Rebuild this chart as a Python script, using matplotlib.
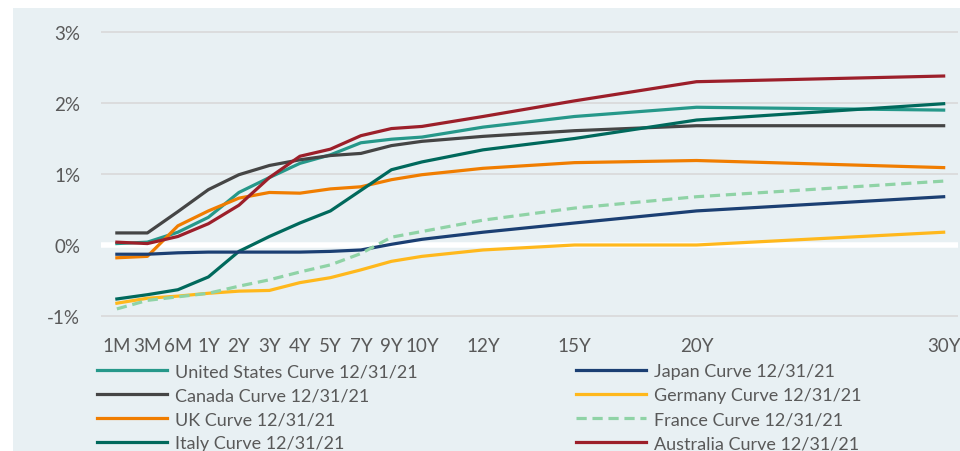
import matplotlib
matplotlib.use("Agg")
import matplotlib.pyplot as plt
from matplotlib.patches import Rectangle

plt.rcParams['font.family'] = ['Lato', 'DejaVu Sans']

tenors = ["1M", "3M", "6M", "1Y", "2Y", "3Y", "4Y", "5Y", "7Y", "9Y", "10Y", "12Y", "15Y", "20Y", "30Y"]
tenor_pos = [0, 1, 2, 3, 4, 5, 6, 7, 8, 9, 10, 12, 15, 19, 27.1]

us = [0.02, 0.04, 0.18, 0.39, 0.74, 0.95, 1.15, 1.27, 1.44, 1.49, 1.52, 1.66, 1.81, 1.94, 1.90]
canada = [0.17, 0.17, 0.47, 0.78, 0.99, 1.12, 1.20, 1.26, 1.29, 1.40, 1.46, 1.53, 1.61, 1.68, 1.68]
uk = [-0.18, -0.16, 0.27, 0.48, 0.66, 0.74, 0.73, 0.79, 0.82, 0.92, 0.99, 1.08, 1.16, 1.19, 1.09]
italy = [-0.76, -0.70, -0.63, -0.45, -0.09, 0.12, 0.31, 0.48, 0.77, 1.06, 1.17, 1.34, 1.50, 1.76, 1.99]
japan = [-0.13, -0.13, -0.11, -0.10, -0.10, -0.10, -0.10, -0.09, -0.07, 0.01, 0.08, 0.18, 0.31, 0.48, 0.68]
germany = [-0.82, -0.75, -0.72, -0.68, -0.65, -0.64, -0.53, -0.46, -0.35, -0.23, -0.16, -0.07, 0.00, 0.00, 0.18]
france = [-0.90, -0.78, -0.73, -0.68, -0.58, -0.49, -0.38, -0.28, -0.12, 0.11, 0.19, 0.35, 0.52, 0.68, 0.90]
australia = [0.04, 0.02, 0.12, 0.30, 0.56, 0.95, 1.25, 1.35, 1.54, 1.64, 1.67, 1.81, 2.03, 2.30, 2.38]

y_ticks = [-1, 0, 1, 2, 3]
y_labels = ["-1%", "0%", "1%", "2%", "3%"]

series = [
    ("United States Curve 12/31/21", us, "#26988a", "-"),
    ("Canada Curve 12/31/21", canada, "#454545", "-"),
    ("UK Curve 12/31/21", uk, "#f07d00", "-"),
    ("Italy Curve 12/31/21", italy, "#00695c", "-"),
    ("Japan Curve 12/31/21", japan, "#1b3f73", "-"),
    ("Germany Curve 12/31/21", germany, "#ffb81c", "-"),
    ("France Curve 12/31/21", france, "#8fd3a6", "--"),
    ("Australia Curve 12/31/21", australia, "#9c1f2a", "-"),
]

W, H = 960, 452
fig = plt.figure(figsize=(W / 100, H / 100), dpi=100)
fig.patch.set_facecolor("white")
bg = "#e8f0f3"
fig.patches.append(Rectangle((13 / W, 0), 1 - 13 / W, 1 - 9 / H, transform=fig.transFigure,
                             facecolor=bg, edgecolor="none", zorder=-10))

left, right = 101, 958
top, bottom = 20, 330
ax = fig.add_axes([left / W, 1 - bottom / H, (right - left) / W, (bottom - top) / H])
ax.set_facecolor("none")
ax.set_zorder(1)
# pixel mapping: 0% at y=246, 71 px per 1%
ax.set_ylim((246 - bottom) / 71, (246 - top) / 71)
ax.set_xlim(-0.52, 27.57)

for s in ax.spines.values():
    s.set_visible(False)
ax.set_yticks(y_ticks)
ax.set_yticklabels(y_labels)
ax.set_xticks(tenor_pos)
ax.set_xticklabels(tenors)
ax.tick_params(axis="both", length=0, labelsize=13.5, labelcolor="#595959")
ax.tick_params(axis="y", pad=15)
ax.tick_params(axis="x", pad=6)
for t in y_ticks:
    if t == 0:
        ax.axhline(t, color="white", lw=4, zorder=1)
    else:
        ax.axhline(t, color="#d9d9d9", lw=1.2, zorder=1)

handles = []
for name, vals, col, ls in series:
    if ls == "--":
        h, = ax.plot(tenor_pos, vals, color=col, lw=2.3, ls=(0, (3.2, 1.8)), label=name, zorder=3)
    else:
        h, = ax.plot(tenor_pos, vals, color=col, lw=2.3, ls=ls, label=name, zorder=3)
    handles.append(h)

leg_kw = dict(frameon=False, fontsize=13, handlelength=3.9, handletextpad=0.4,
              labelspacing=0.45, borderpad=0, borderaxespad=0, labelcolor="#595959")
l1 = fig.legend(handles=handles[:4], loc="upper left",
                bbox_to_anchor=(97 / W, 1 - 364 / H), **leg_kw)
l2 = fig.legend(handles=handles[4:], loc="upper left",
                bbox_to_anchor=(576 / W, 1 - 364 / H), **leg_kw)

fig.savefig("out.png", dpi=100)
